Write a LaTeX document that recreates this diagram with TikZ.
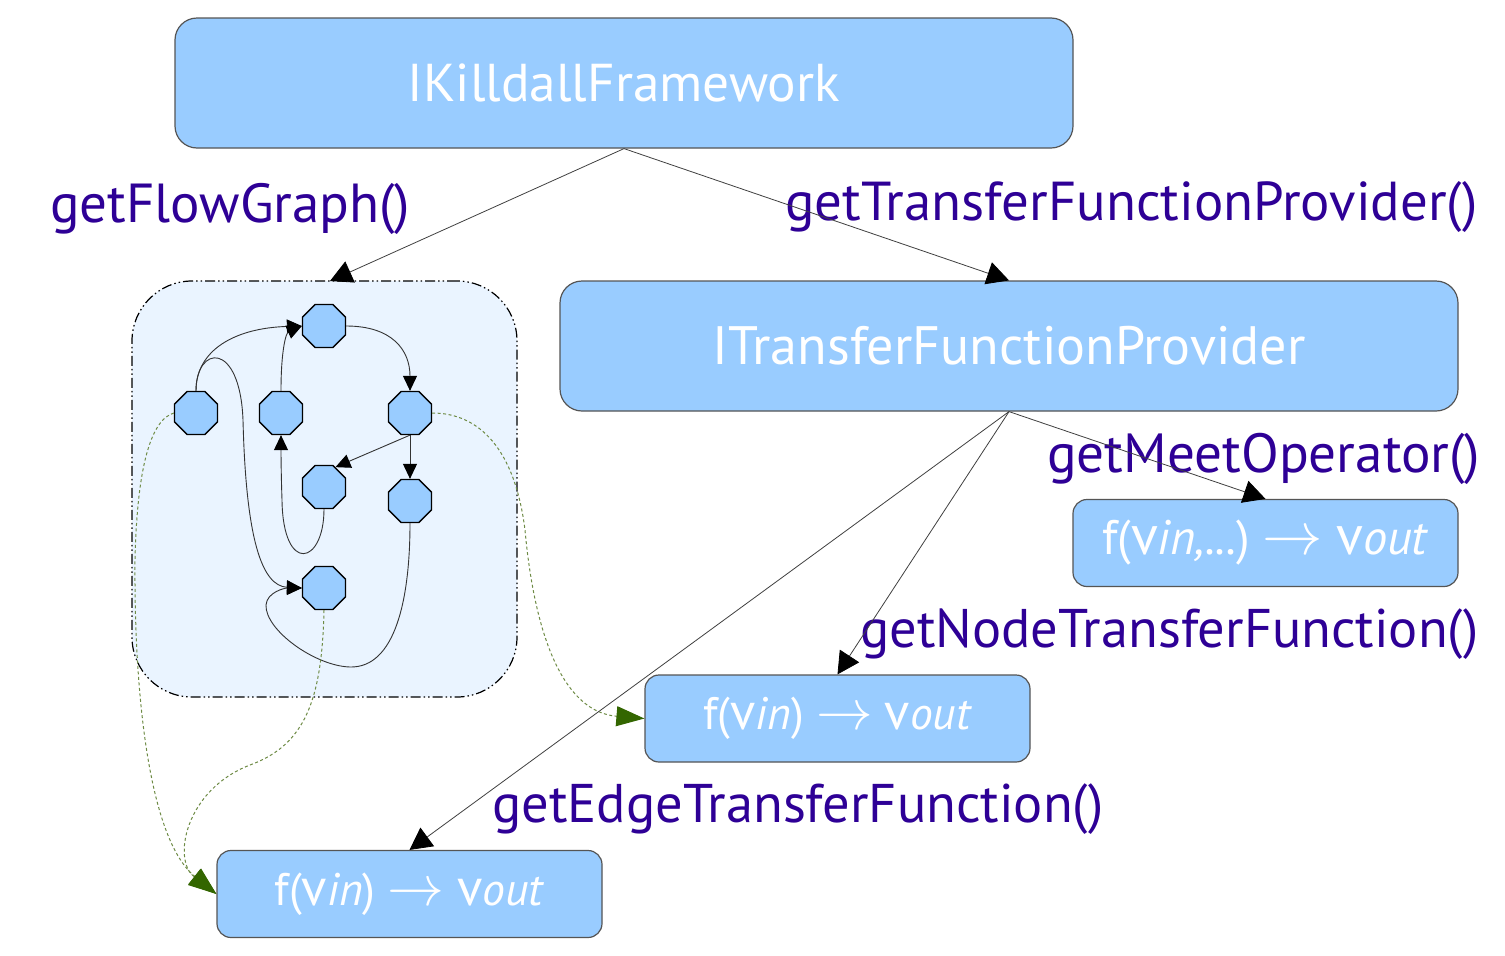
\documentclass[tikz,border=0pt]{standalone}
\usepackage{fontspec}
\setmainfont{PT Sans}
\usepackage{graphicx}
\usetikzlibrary{arrows.meta,shapes.geometric}
\definecolor{boxblue}{HTML}{99CCFF}
\definecolor{boxedge}{HTML}{555555}
\definecolor{labcol}{HTML}{2E0096}
\definecolor{clusterfill}{HTML}{EAF4FF}
\definecolor{greenline}{HTML}{6E8B45}
\definecolor{greentip}{HTML}{336600}
\newcommand{\fitw}[2]{\resizebox{#1}{!}{#2}}
\newcommand{\vv}{\scalebox{1.15}{v}}
\newcommand{\farr}{\scalebox{2.7}{$\rightarrow$}}
\newcommand{\ftxt}[2]{\raisebox{-6pt}{\resizebox{#1}{!}{\fontsize{54}{60}\selectfont #2}}}
\begin{document}
\begin{tikzpicture}[x=1pt,y=-1pt,
  bigbox/.style={draw=boxedge,line width=1.2pt,fill=boxblue,rounded corners=22pt,text=white,inner sep=0pt,minimum width=898pt,minimum height=130pt},
  fbox/.style={draw=boxedge,line width=1.2pt,fill=boxblue,rounded corners=14pt,text=white,inner sep=0pt,minimum width=385pt,minimum height=87pt},
  oct/.style={regular polygon,regular polygon sides=8,draw=black,line width=1.3pt,fill=boxblue,minimum size=46.5pt,inner sep=0pt},
  conn/.style={draw=black!75,line width=0.8pt,-{Triangle[length=22pt,width=23pt,color=black]}},
  inedge/.style={draw=black!80,line width=0.9pt,-{Triangle[length=15pt,width=14pt,color=black]}},
  gdash/.style={draw=greenline,line width=1pt,dash pattern=on 3pt off 2.5pt,-{Triangle[length=28pt,width=20pt,color=greentip]}},
  lab/.style={text=labcol,inner sep=0pt,anchor=base west},
  cluster/.style={draw=black,line width=1.2pt,fill=clusterfill,rounded corners=60pt,dash pattern=on 10pt off 3pt on 1.5pt off 3pt on 1.5pt off 3pt,minimum width=385pt,minimum height=416pt}
]
\useasboundingbox[fill=white] (0,0) rectangle (1505,956);

% labels (drawn below lines)
\node[lab] (l1) at (50,222) {\fitw{360pt}{getFlowGraph()}};
\node[lab] (l2) at (785,220) {\fitw{692pt}{getTransferFunctionProvider()}};
\node[lab] (l3) at (1047,472) {\fitw{433pt}{getMeetOperator()}};
\node[lab] (l4) at (860,647) {\fitw{618pt}{getNodeTransferFunction()}};
\node[lab] (l5) at (492,822) {\fitw{611pt}{getEdgeTransferFunction()}};

% main boxes
\node[bigbox] (A) at (624,83) {\fitw{432pt}{IKilldallFramework}};
\node[bigbox] (B) at (1009,346) {\fitw{593pt}{ITransferFunctionProvider}};
\node[fbox] (C) at (1265.5,543) {\ftxt{327pt}{f(\vv\textit{in,...})\ \farr\ \vv\textit{out}}};
\node[fbox] (D) at (837.5,718.5) {\ftxt{269pt}{f(\vv\textit{in})\ \farr\ \vv\textit{out}}};
\node[fbox] (E) at (409.5,894) {\ftxt{270pt}{f(\vv\textit{in})\ \farr\ \vv\textit{out}}};

% cluster
\node[cluster] (cl) at (324.5,489) {};
\coordinate (clt) at (330,281);

% octagons
\node[oct] (n1) at (324,326) {};
\node[oct] (n2) at (196,413) {};
\node[oct] (n3) at (281,413) {};
\node[oct] (n4) at (410,413) {};
\node[oct] (n5) at (324,487) {};
\node[oct] (n6) at (410,501) {};
\node[oct] (n7) at (324,588) {};

% inner edges
\draw[inedge] (n2.north) .. controls (196,350) and (235,328) .. (n1.west);
\draw[inedge] (n2.north) .. controls (196,345) and (240,340) .. (243,420) .. controls (246,540) and (262,586) .. (n7.west);
\draw[inedge] (n3.north) .. controls (281,350) and (286,333) .. (n1.west);
\draw[inedge] (n1.east) .. controls (392,326) and (410,350) .. (n4.north);
\draw[inedge] (n4.south) -- (n5.60);
\draw[inedge] (n4.south) -- (n6.north);
\draw[inedge] (n5.south) .. controls (324,565) and (283,575) .. (282,500) .. controls (281,470) and (281,450) .. (n3.south);
\draw[inedge] (n6.south) .. controls (410,600) and (395,668) .. (350,667) .. controls (315,666) and (265,630) .. (266,605) .. controls (267,592) and (285,588) .. (n7.west);

% green dotted edges
\draw[gdash] (n4.east) .. controls (480,413) and (515,450) .. (525,530) .. controls (535,640) and (565,712) .. (D.west);
\draw[gdash] (n2.west) .. controls (150,420) and (137,470) .. (135,560) .. controls (134,700) and (150,840) .. (E.west);
\draw[gdash] (n7.south) .. controls (322,700) and (305,745) .. (250,765) .. controls (185,790) and (172,860) .. (E.west);

% main connectors
\draw[conn] (A.south) -- (clt);
\draw[conn] (A.south) -- (B.north);
\draw[conn] (B.south) -- (C.north);
\draw[conn] (B.south) -- (D.north);
\draw[conn] (B.south) -- (E.north);
\end{tikzpicture}
\end{document}
